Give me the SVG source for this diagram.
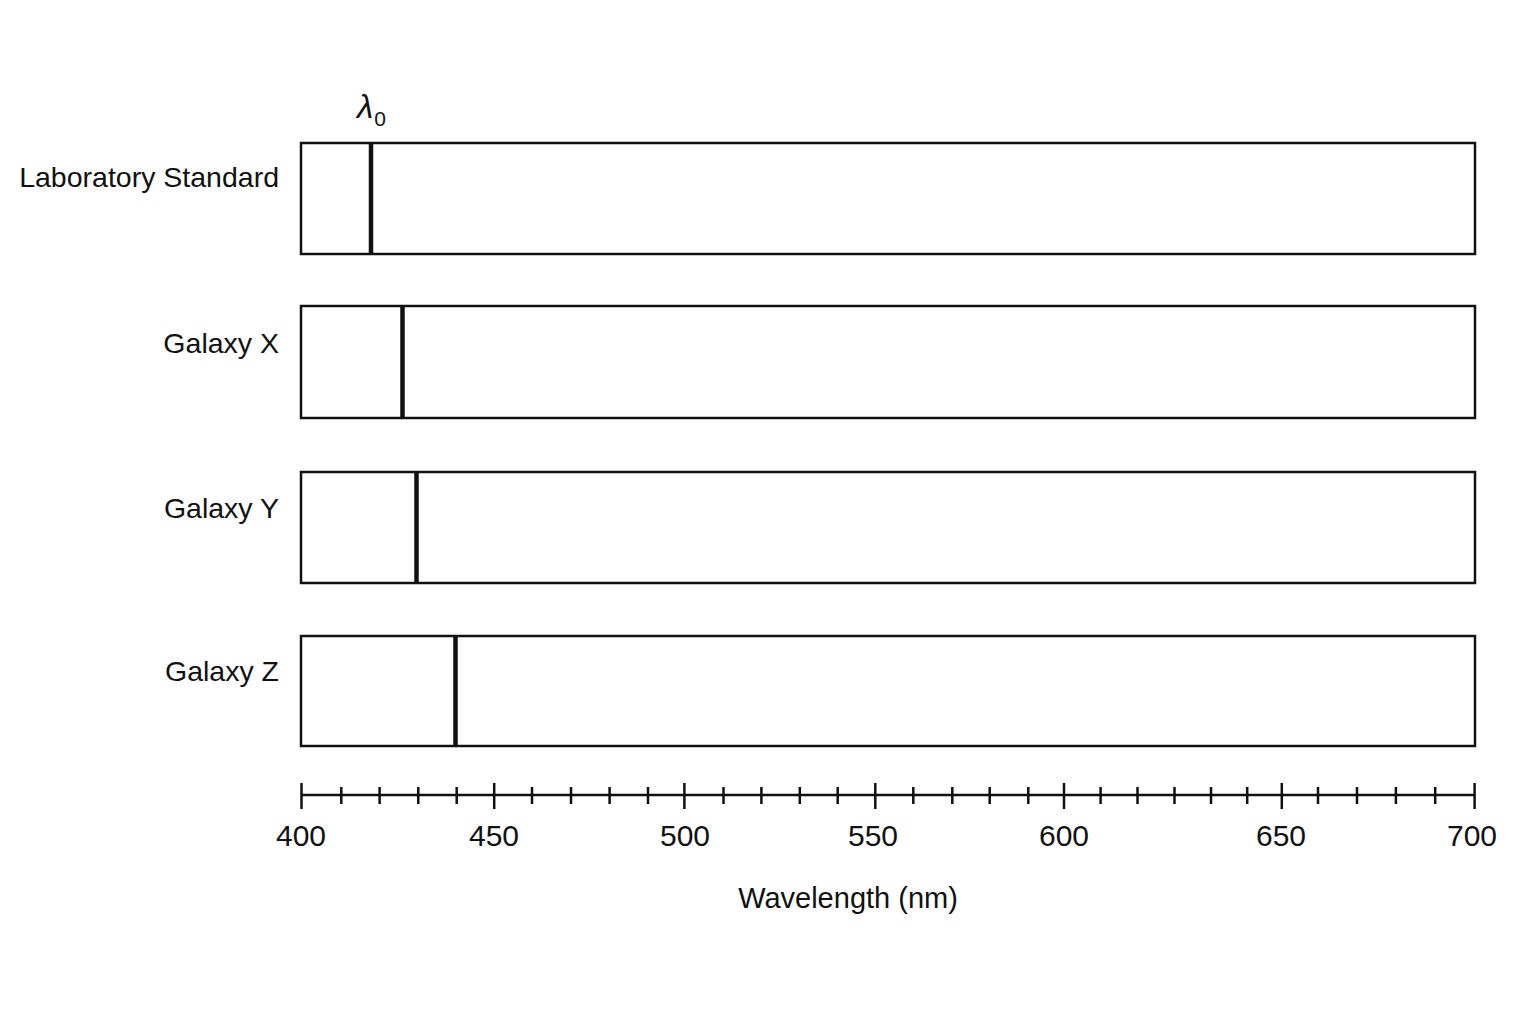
<svg xmlns="http://www.w3.org/2000/svg" width="1536" height="1024" viewBox="0 0 1536 1024">
<style>
text{font-family:"Liberation Sans",Arial,sans-serif;fill:#111}
.lbl{font-size:28.5px;text-anchor:end}
.tick{font-size:30px;text-anchor:middle}
.box{fill:#fff;stroke:#111;stroke-width:2.5}
.line{stroke:#111;stroke-width:4.5}
.ax{stroke:#111;stroke-width:2.5;fill:none}
</style>
<rect width="1536" height="1024" fill="#fff"/>
<g id="lab">
<text class="lbl" x="279" y="187">Laboratory Standard</text>
<rect class="box" x="301" y="143" width="1174" height="111"/>
<line class="line" x1="371" y1="143" x2="371" y2="254"/>
<text x="357" y="118" font-size="33" font-style="italic" font-family="DejaVu Serif, serif">λ<tspan font-style="normal" font-family="Liberation Sans, sans-serif" font-size="21" dx="1" dy="8">0</tspan></text>
</g>
<g id="galaxyX">
<text class="lbl" x="279" y="353">Galaxy X</text>
<rect class="box" x="301" y="306" width="1174" height="112"/>
<line class="line" x1="402.5" y1="306" x2="402.5" y2="418"/>
</g>
<g id="galaxyY">
<text class="lbl" x="279" y="518">Galaxy Y</text>
<rect class="box" x="301" y="472" width="1174" height="111"/>
<line class="line" x1="416.5" y1="472" x2="416.5" y2="583"/>
</g>
<g id="galaxyZ">
<text class="lbl" x="279" y="681">Galaxy Z</text>
<rect class="box" x="301" y="636" width="1174" height="110"/>
<line class="line" x1="455.5" y1="636" x2="455.5" y2="746"/>
</g>
<g id="axis">
<line class="ax" x1="301" y1="795" x2="1475" y2="795"/>
<path class="ax" d="M301.5 783V809M494.2 783V809M684.4 783V809M875.3 783V809M1064 783V809M1281.8 783V809M1474.6 783V809"/>
<path class="ax" d="M341.3 787V804M379.6 787V804M418.3 787V804M456.7 787V804M532 787V804M571 787V804M609.6 787V804M648 787V804M723.5 787V804M761.4 787V804M799.8 787V804M837.7 787V804M913.3 787V804M952.3 787V804M989.7 787V804M1028.3 787V804M1100.6 787V804M1137.5 787V804M1174.5 787V804M1211 787V804M1247.2 787V804M1318 787V804M1357 787V804M1395.9 787V804M1435.2 787V804"/>
<text class="tick" x="301" y="846">400</text>
<text class="tick" x="494" y="846">450</text>
<text class="tick" x="685" y="846">500</text>
<text class="tick" x="873" y="846">550</text>
<text class="tick" x="1064" y="846">600</text>
<text class="tick" x="1281" y="846">650</text>
<text class="tick" x="1472" y="846">700</text>
<text x="848" y="908" font-size="29" text-anchor="middle">Wavelength (nm)</text>
</g>
</svg>
